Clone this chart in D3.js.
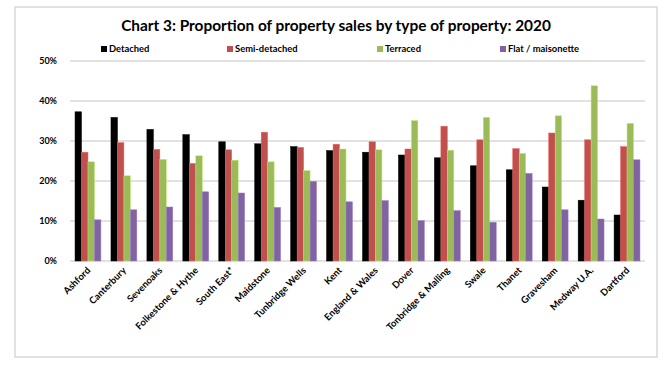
<!DOCTYPE html>
<html><head><meta charset="utf-8">
<script src="https://cdn.jsdelivr.net/npm/d3@7/dist/d3.min.js"></script>
<style>body{margin:0;background:#fff}</style>
</head><body>
<svg id="c" width="669" height="369"></svg>
<script>
const categories = ["Ashford","Canterbury","Sevenoaks","Folkestone & Hythe","South East*","Maidstone","Tunbridge Wells","Kent","England & Wales","Dover","Tonbridge & Malling","Swale","Thanet","Gravesham","Medway U.A.","Dartford"];
const seriesNames = ["Detached","Semi-detached","Terraced","Flat / maisonette"];
const detached = [37.3,35.9,32.9,31.6,29.8,29.3,28.6,27.6,27.2,26.5,25.8,23.8,22.8,18.5,15.2,11.5];
const semiDetached = [27.2,29.6,27.9,24.4,27.8,32.2,28.4,29.2,29.8,28.0,33.7,30.3,28.1,32.0,30.3,28.6];
const terraced = [24.8,21.3,25.4,26.3,25.2,24.8,22.6,28.0,27.8,35.1,27.7,35.9,26.9,36.3,43.8,34.4];
const flat = [10.3,12.8,13.5,17.3,17.0,13.4,19.9,14.8,15.1,10.1,12.6,9.7,21.9,12.8,10.5,25.3];
const yTicks = [0,10,20,30,40,50];
const colors = ["#000000","#C0504D","#9BBB59","#8064A2"];
const series = [detached, semiDetached, terraced, flat];

const svg = d3.select("#c");
const font = "Lato, 'Open Sans', sans-serif";
svg.append("rect").attr("x",15).attr("y",7).attr("width",642).attr("height",350)
  .attr("fill","#fff").attr("stroke","#d9d9d9").attr("stroke-width",1.5);

const pL=70, pR=645, pT=61, pB=261;
const x0 = d3.scaleBand().domain(categories).range([pL,pR]).paddingInner(0.28).paddingOuter(0.14);
const x1 = d3.scaleBand().domain(seriesNames).range([0,x0.bandwidth()]);
const y = d3.scaleLinear().domain([0,50]).range([pB,pT]);

svg.append("g").selectAll("line").data(yTicks).join("line")
  .attr("x1",pL).attr("x2",pR).attr("y1",d=>y(d)).attr("y2",d=>y(d))
  .attr("stroke","#d9d9d9").attr("stroke-width",1.5);

const yAxis = d3.axisLeft(y).tickValues(yTicks).tickFormat(d=>d+"%").tickSize(0).tickPadding(13);
const ya = svg.append("g").attr("transform",`translate(${pL},0)`).call(yAxis);
ya.select(".domain").remove();
ya.selectAll("text").attr("font-family",font).attr("font-weight","bold").attr("font-size",9).attr("fill","#000");

const g = svg.append("g");
categories.forEach((c,i)=>{
  series.forEach((s,j)=>{
    g.append("rect").attr("x",x0(c)+x1(seriesNames[j])).attr("y",y(s[i]))
      .attr("width",x1.bandwidth()).attr("height",y(0)-y(s[i]))
      .attr("fill",colors[j]).attr("stroke",d3.color(colors[j]).brighter(0.6)).attr("stroke-width",0.5);
  });
});

const xAxis = d3.axisBottom(x0).tickSize(0).tickPadding(0);
const xa = svg.append("g").attr("transform",`translate(0,${pB})`).call(xAxis);
xa.select(".domain").remove();
xa.selectAll("text").attr("font-family",font).attr("font-weight","bold").attr("font-size",9.5).attr("fill","#000")
  .attr("text-anchor","end").attr("dy",0).attr("transform","translate(3,10) rotate(-45)");

svg.append("text").attr("x",336).attr("y",31).attr("text-anchor","middle")
  .attr("font-family",font).attr("font-weight","bold").attr("font-size",15.4)
  .text("Chart 3: Proportion of property sales by type of property: 2020");

const legX = [101,227,377,500];
const lg = svg.append("g");
seriesNames.forEach((n,j)=>{
  lg.append("rect").attr("x",legX[j]).attr("y",46).attr("width",6).attr("height",6).attr("fill",colors[j]);
  lg.append("text").attr("x",legX[j]+8).attr("y",52).attr("font-family",font).attr("font-weight","bold")
    .attr("font-size",9.4).text(n);
});
</script>
</body></html>
